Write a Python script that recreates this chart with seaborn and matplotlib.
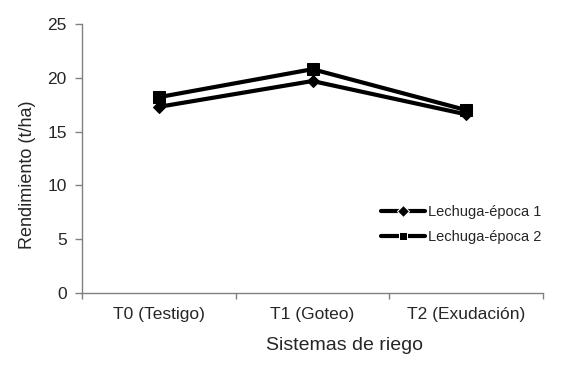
import matplotlib
matplotlib.use("Agg")
import matplotlib.pyplot as plt
import seaborn as sns
import pandas as pd
from matplotlib.ticker import FixedLocator

categories = ["T0 (Testigo)", "T1 (Goteo)", "T2 (Exudación)"]
epoca1 = [17.3, 19.7, 16.6]
epoca2 = [18.2, 20.8, 17.0]
series_names = ["Lechuga-época 1", "Lechuga-época 2"]

df = pd.DataFrame({
    "Sistema": categories * 2,
    "Rendimiento": epoca1 + epoca2,
    "Serie": [series_names[0]] * 3 + [series_names[1]] * 3,
})

sns.set_style("white")
plt.rcParams["font.family"] = ["Liberation Sans", "DejaVu Sans"]

W, H = 569, 373
fig = plt.figure(figsize=(W / 100, H / 100), dpi=100)
ax = fig.add_axes([82 / W, 80 / H, 461 / W, 269 / H])

sns.lineplot(data=df, x="Sistema", y="Rendimiento", hue="Serie", style="Serie",
             palette=["black", "black"], markers=["D", "s"], dashes=False,
             linewidth=3, ax=ax, sort=False)
for line, ms in zip(ax.get_lines()[:2], [6, 9]):
    line.set_markersize(ms)
    line.set_markeredgecolor("black")

ax.set_ylim(0, 25)
ax.set_yticks([0, 5, 10, 15, 20, 25])
ax.set_xlim(-0.5, 2.5)
ax.set_xticks([0, 1, 2])
ax.set_xticklabels(categories)
ax.xaxis.set_minor_locator(FixedLocator([-0.5, 0.5, 1.5, 2.5]))
ax.tick_params(axis="x", which="major", length=0, pad=10, labelsize=12.5)
ax.tick_params(axis="x", which="minor", length=4, color="#808080", width=1, direction="out", bottom=True)
ax.tick_params(axis="y", length=5, color="#808080", width=1, direction="out", left=True, labelsize=12.5, pad=6)

for side in ["top", "right"]:
    ax.spines[side].set_visible(False)
for side in ["left", "bottom"]:
    ax.spines[side].set_color("#808080")
    ax.spines[side].set_linewidth(1)

ax.set_xlabel("")
ax.set_ylabel("")
fig.text(345 / W, 1 - 345 / H, "Sistemas de riego", fontsize=14, ha="center", va="center")
fig.text(28 / W, 1 - 175 / H, "Rendimiento (t/ha)", fontsize=13, ha="center", va="center", rotation=90)

handles, labels = ax.get_legend_handles_labels()
leg = ax.legend(handles, labels, loc="upper left", bbox_to_anchor=(293 / 461, 0.35),
                frameon=False, fontsize=10.5, handlelength=3.0, handletextpad=0.2,
                labelspacing=0.8, borderaxespad=0)
for h in leg.legend_handles:
    h.set_linewidth(3)

fig.savefig("out.png", dpi=100)
